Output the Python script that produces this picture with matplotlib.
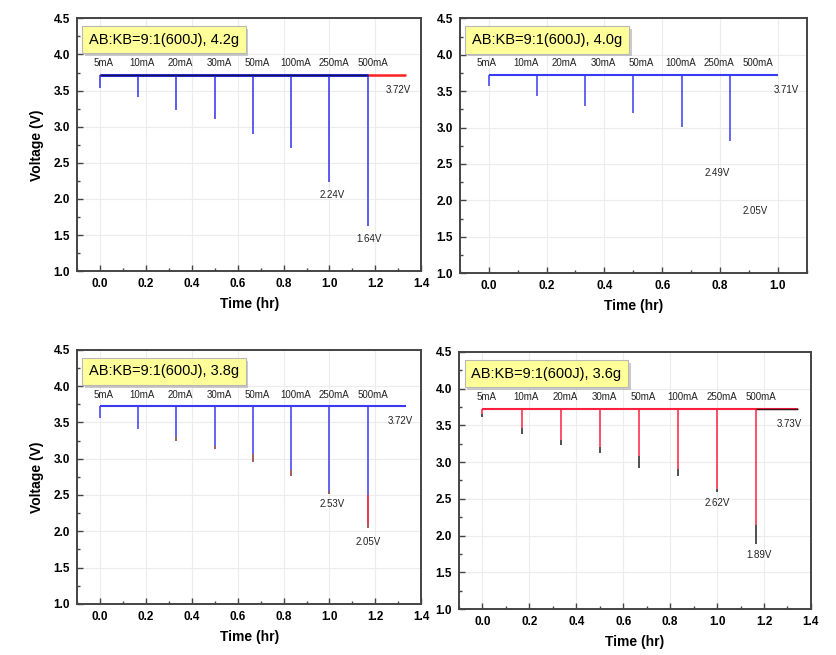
import matplotlib
matplotlib.use("Agg")
import matplotlib.pyplot as plt
import matplotlib.patheffects as pe
from matplotlib.ticker import MultipleLocator, FormatStrFormatter

plt.rcParams['font.family'] = ['Liberation Sans', 'DejaVu Sans']

# pulse times (hr) and current labels
currents = ["5mA", "10mA", "20mA", "30mA", "50mA", "100mA", "250mA", "500mA"]
t_pulse = [0.0, 0.167, 0.333, 0.5, 0.667, 0.833, 1.0, 1.167]

# panel 1 : 4.2 g
title1 = "AB:KB=9:1(600J), 4.2g"
base1 = 3.72
end1 = 1.335
vmin1 = [3.53, 3.41, 3.23, 3.10, 2.90, 2.71, 2.23, 1.63]
notes1 = ["3.72V", "2.24V", "1.64V"]
note_x1 = [1.30, 1.01, 1.17]
note_y1 = [3.51, 2.06, 1.44]

# panel 2 : 4.0 g
title2 = "AB:KB=9:1(600J), 4.0g"
base2 = 3.72
end2 = 1.0
vmin2 = [3.57, 3.43, 3.29, 3.20, 3.01, 2.82]
notes2 = ["3.71V", "2.49V", "2.05V"]
note_x2 = [1.03, 0.79, 0.92]
note_y2 = [3.52, 2.37, 1.85]

# panel 3 : 3.8 g
title3 = "AB:KB=9:1(600J), 3.8g"
base3 = 3.72
end3 = 1.335
vmin3 = [3.56, 3.41, 3.25, 3.14, 2.96, 2.76, 2.52, 2.04]
knee3 = [3.56, 3.41, 3.30, 3.18, 3.07, 2.84, 2.56, 2.50]
notes3 = ["3.72V", "2.53V", "2.05V"]
note_x3 = [1.31, 1.01, 1.17]
note_y3 = [3.52, 2.37, 1.85]

# panel 4 : 3.6 g
title4 = "AB:KB=9:1(600J), 3.6g"
base4 = 3.72
end4 = 1.345
vmin4 = [3.61, 3.38, 3.23, 3.12, 2.92, 2.81, 2.59, 1.88]
knee4 = [3.66, 3.46, 3.30, 3.20, 3.08, 2.90, 2.64, 2.14]
notes4 = ["3.73V", "2.62V", "1.89V"]
note_x4 = [1.31, 1.00, 1.18]
note_y4 = [3.52, 2.44, 1.73]

fig = plt.figure(figsize=(8.36, 6.55), dpi=100)
fig.patch.set_facecolor("white")

ax1 = fig.add_axes([0.092, 0.586, 0.412, 0.386])
ax2 = fig.add_axes([0.550, 0.583, 0.415, 0.389])
ax3 = fig.add_axes([0.092, 0.078, 0.412, 0.388])
ax4 = fig.add_axes([0.549, 0.070, 0.421, 0.393])


def style_axes(ax, xmax, ylabel=True):
    ax.set_xlim(-0.1, xmax)
    ax.set_ylim(1.0, 4.5)
    ax.xaxis.set_major_locator(MultipleLocator(0.2))
    ax.xaxis.set_minor_locator(MultipleLocator(0.1))
    ax.yaxis.set_major_locator(MultipleLocator(0.5))
    ax.yaxis.set_minor_locator(MultipleLocator(0.25))
    ax.xaxis.set_major_formatter(FormatStrFormatter("%.1f"))
    ax.yaxis.set_major_formatter(FormatStrFormatter("%.1f"))
    ax.tick_params(which="both", direction="in", color="#444444")
    ax.tick_params(which="major", length=4, width=1, labelsize=8.5, pad=5)
    ax.tick_params(which="minor", length=2.5, width=1)
    for lab in ax.get_xticklabels() + ax.get_yticklabels():
        lab.set_fontweight("bold")
    for sp in ax.spines.values():
        sp.set_linewidth(1.4)
        sp.set_color("#444444")
    ax.grid(True, which="major", color="#ececec", linewidth=0.8)
    ax.set_axisbelow(True)
    ax.set_xlabel("Time (hr)", fontsize=10, fontweight="bold", labelpad=5)
    if ylabel:
        ax.set_ylabel("Voltage (V)", fontsize=10, fontweight="bold", labelpad=7)


def add_title(ax, text):
    t = ax.text(0.035, 0.915, text, transform=ax.transAxes, fontsize=10.5,
                va="center", ha="left", zorder=10,
                bbox=dict(boxstyle="square,pad=0.45", facecolor="#ffff99",
                          edgecolor="#b8b8b8", linewidth=0.8))
    t.get_bbox_patch().set_path_effects(
        [pe.SimplePatchShadow(offset=(2, -2), shadow_rgbFace="#999999", alpha=0.5), pe.Normal()])


def add_currents(ax):
    for i, c in enumerate(currents):
        ax.text(0.078 + i * 0.1115, 0.823, c, transform=ax.transAxes,
                fontsize=7, ha="center", va="center", color="#222222")


def add_notes(ax, notes, xs, ys):
    for n, x, y in zip(notes, xs, ys):
        ax.text(x, y, n, fontsize=7, ha="center", va="center", color="#222222")


# panel 1
ax = ax1
ax.hlines(base1, 0, end1, color="#ff2020", linewidth=1.8, zorder=3)
ax.hlines(base1, 0, t_pulse[-1], color="#3030f0", linewidth=2.2, zorder=4)
ax.hlines(base1, 0, t_pulse[-1], color="#15154a", linewidth=1.0, zorder=5)
ax.vlines(t_pulse, vmin1, base1, color="#3030f0", linewidth=1.1, zorder=4)
style_axes(ax, 1.4)
add_title(ax, title1)
add_currents(ax)
add_notes(ax, notes1, note_x1, note_y1)

# panel 2
ax = ax2
ax.hlines(base2, 0, end2, color="#3a3af5", linewidth=1.5, zorder=4)
ax.vlines(t_pulse[:len(vmin2)], vmin2, base2, color="#3a3af5", linewidth=1.1, zorder=4)
style_axes(ax, 1.1, ylabel=False)
add_title(ax, title2)
add_currents(ax)
add_notes(ax, notes2, note_x2, note_y2)

# panel 3
ax = ax3
ax.hlines(base3, 0, end3, color="#3a3af5", linewidth=1.5, zorder=4)
ax.vlines(t_pulse, vmin3, knee3, color="#8a3030", linewidth=1.1, zorder=4)
ax.vlines(t_pulse, knee3, base3, color="#3a3af5", linewidth=1.1, zorder=4)
ax.vlines(t_pulse[-1], vmin3[-1] + 0.08, knee3[-1], color="#ff3050", linewidth=1.1, zorder=5)
style_axes(ax, 1.4)
add_title(ax, title3)
add_currents(ax)
add_notes(ax, notes3, note_x3, note_y3)

# panel 4
ax = ax4
ax.hlines(base4, 0, end4, color="#ff2040", linewidth=1.5, zorder=4)
ax.hlines(base4, t_pulse[-1], end4, color="#401018", linewidth=1.0, zorder=5)
ax.vlines(t_pulse, vmin4, knee4, color="#202020", linewidth=1.1, zorder=4)
ax.vlines(t_pulse, knee4, base4, color="#ff2040", linewidth=1.1, zorder=4)
style_axes(ax, 1.4, ylabel=False)
add_title(ax, title4)
add_currents(ax)
add_notes(ax, notes4, note_x4, note_y4)

fig.savefig("out.png", dpi=100, facecolor="white")
